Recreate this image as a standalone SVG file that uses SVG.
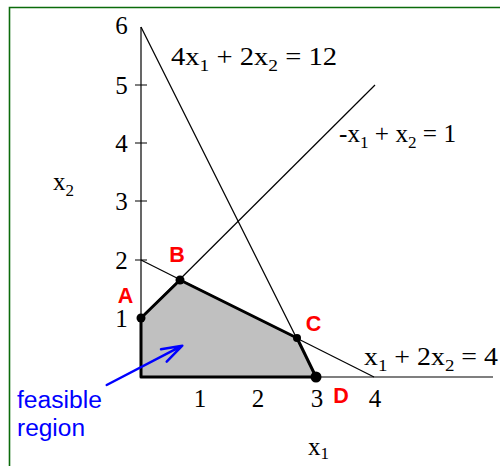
<svg xmlns="http://www.w3.org/2000/svg" width="500" height="466" viewBox="0 0 500 466">
<style>
.t{font-family:"Liberation Serif","Times New Roman",serif;font-size:25px;fill:#000}
.s{font-size:17px}
.lbl{font-family:"Liberation Sans",Arial,sans-serif;font-weight:bold;font-size:21.5px;fill:#ff0000;text-anchor:middle}
.thin{stroke:#000;stroke-width:1.2;fill:none}
.dot{fill:#000}
.blue{font-family:"Liberation Sans",Arial,sans-serif;font-size:23px;fill:#0000ff}
</style>
<rect width="500" height="466" fill="#fff"/>
<path d="M9.5 466 V7.5 H500" fill="none" stroke="#0b6b0b" stroke-width="1.6"/>
<g id="region">
<polygon points="141,377 141,318 180,280 297,338 316,377" fill="#c0c0c0" stroke="#000" stroke-width="3" stroke-linejoin="round"/>
</g>
<g id="axes">
<line class="thin" x1="141" y1="27" x2="141" y2="377"/>
<line class="thin" x1="141" y1="377" x2="493" y2="377"/>
<path class="thin" d="M135 85H147M135 143H147M135 201H147M135 260H147"/>
<g class="t" text-anchor="middle">
<text x="121.5" y="34">6</text>
<text x="121.5" y="94">5</text>
<text x="121.5" y="152">4</text>
<text x="121.5" y="210">3</text>
<text x="121.5" y="269">2</text>
<text x="121.5" y="327">1</text>
<text x="200" y="407">1</text>
<text x="258" y="407">2</text>
<text x="317" y="407">3</text>
<text x="375" y="407">4</text>
</g>
<text class="t" x="53" y="190">x<tspan class="s" dy="6">2</tspan></text>
<text class="t" x="308" y="455">x<tspan class="s" dy="4">1</tspan></text>
</g>
<g id="connectors">
<line class="thin" x1="141" y1="27" x2="316" y2="377"/>
<line class="thin" x1="141" y1="318" x2="375" y2="85"/>
<line class="thin" x1="141" y1="260" x2="374" y2="377"/>
</g>
<g id="eq1"><text class="t" x="171" y="65" textLength="166" lengthAdjust="spacingAndGlyphs">4x<tspan class="s" dy="6">1</tspan><tspan dy="-6"> + 2x</tspan><tspan class="s" dy="6">2</tspan><tspan dy="-6"> = 12</tspan></text></g>
<g id="eq2"><text class="t" x="339" y="142" textLength="117" lengthAdjust="spacingAndGlyphs">-x<tspan class="s" dy="6">1</tspan><tspan dy="-6"> + x</tspan><tspan class="s" dy="6">2</tspan><tspan dy="-6"> = 1</tspan></text></g>
<g id="eq3"><text class="t" x="364" y="365" textLength="134" lengthAdjust="spacingAndGlyphs">x<tspan class="s" dy="6">1</tspan><tspan dy="-6"> + 2x</tspan><tspan class="s" dy="6">2</tspan><tspan dy="-6"> = 4</tspan></text></g>
<g id="A"><circle class="dot" cx="141" cy="318" r="4.5"/><text class="lbl" x="125.5" y="303">A</text></g>
<g id="B"><circle class="dot" cx="180" cy="280" r="4.5"/><text class="lbl" x="177" y="262">B</text></g>
<g id="C"><circle class="dot" cx="297" cy="338" r="4"/><text class="lbl" x="313.5" y="331">C</text></g>
<g id="D"><circle class="dot" cx="316" cy="377" r="5.5"/><text class="lbl" x="341" y="403">D</text></g>
<g id="feasible">
<path d="M106.7 385 L182.3 345.7 M161 349.3 L182.3 345.7 L166.7 361.7" fill="none" stroke="#0000ff" stroke-width="2.5" stroke-linecap="round" stroke-linejoin="round"/>
<text class="blue" x="17" y="408" textLength="85" lengthAdjust="spacingAndGlyphs">feasible</text>
<text class="blue" x="17" y="436" textLength="68" lengthAdjust="spacingAndGlyphs">region</text>
</g>
</svg>
